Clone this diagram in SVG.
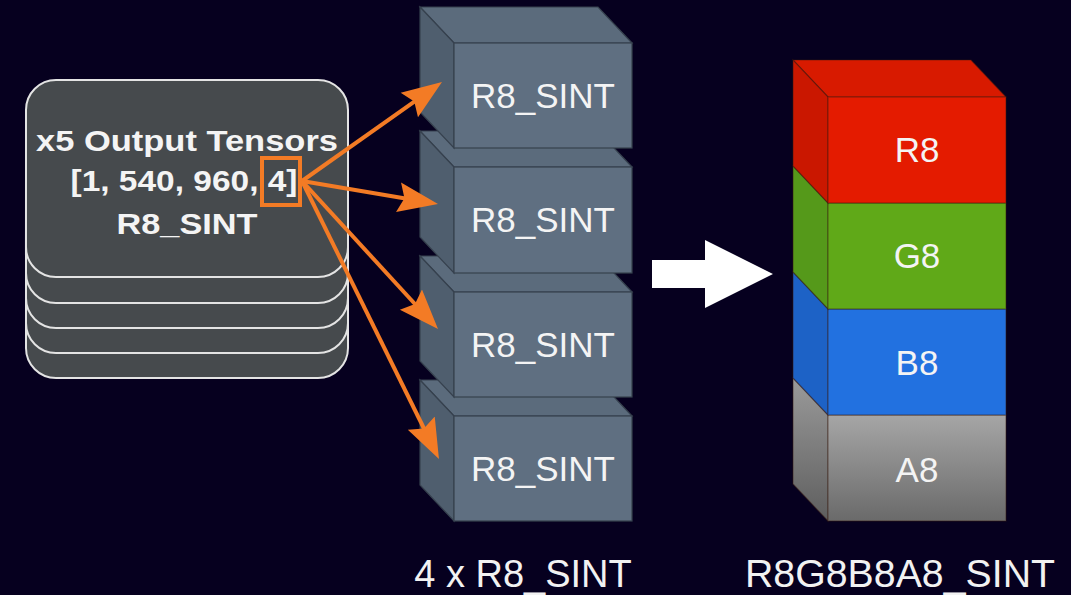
<svg xmlns="http://www.w3.org/2000/svg" width="1071" height="595" viewBox="0 0 1071 595">
<style>
.bg{fill:#06001f}
.tens{fill:#464a4d;stroke:#e4e4e4;stroke-width:2}
.tt{font-family:"Liberation Sans",Arial,sans-serif;font-weight:bold;font-size:30px;fill:#f4f4f4;text-anchor:middle}
.cf{fill:#5f6f81;stroke:#36414e;stroke-width:1.2}
.ct{fill:#5b6b7c;stroke:#36414e;stroke-width:1.2}
.cl{fill:#4f5e6e;stroke:#36414e;stroke-width:1.2}
.lbl{font-family:"Liberation Sans",Arial,sans-serif;font-size:35px;fill:#f4f4f4;text-anchor:middle}
.cap{font-family:"Liberation Sans",Arial,sans-serif;font-size:38px;fill:#f2f2f2;text-anchor:middle}
.edge{stroke:#3a1a10;stroke-opacity:0.45;stroke-width:1.2}
.conn{stroke:#f37b25;stroke-width:4;fill:none;marker-end:url(#ah)}
</style>
<defs>
<marker id="ah" markerUnits="userSpaceOnUse" markerWidth="42" markerHeight="32" refX="10" refY="15" orient="auto" viewBox="0 0 42 30">
<path d="M0,0 L40,15 L0,30 L6,15 Z" fill="#f37b25"/>
</marker>
<linearGradient id="ga" x1="0" y1="0" x2="0" y2="1">
<stop offset="0" stop-color="#a6a6a6"/>
<stop offset="1" stop-color="#6a6a6a"/>
</linearGradient>
<linearGradient id="gas" x1="0" y1="0" x2="0" y2="1">
<stop offset="0" stop-color="#9a9a9a"/>
<stop offset="1" stop-color="#5e5e5e"/>
</linearGradient>
</defs>
<rect class="bg" x="0" y="0" width="1071" height="595"/>

<g id="tensors">
<rect class="tens" x="26" y="181" width="322" height="197" rx="30"/>
<rect class="tens" x="26" y="156" width="322" height="197" rx="30"/>
<rect class="tens" x="26" y="131" width="322" height="197" rx="30"/>
<rect class="tens" x="26" y="106" width="322" height="197" rx="30"/>
<rect class="tens" x="26" y="80" width="322" height="197" rx="30"/>
<text class="tt" x="187" y="151" textLength="302" lengthAdjust="spacingAndGlyphs">x5 Output Tensors</text>
<text class="tt" x="184" y="191" textLength="227" lengthAdjust="spacingAndGlyphs">[1, 540, 960, 4]</text>
<text class="tt" x="187" y="234" textLength="141" lengthAdjust="spacingAndGlyphs">R8_SINT</text>
<rect x="262" y="158" width="38" height="47" fill="none" stroke="#f37b25" stroke-width="4"/>
</g>

<g id="cube4">
<polygon class="ct" points="420,380 598,380 632,416 454,416"/>
<polygon class="cl" points="420,380 454,416 454,521 420,485"/>
<rect class="cf" x="454" y="416" width="178" height="105"/>
<text class="lbl" x="543" y="481">R8_SINT</text>
</g>
<g id="cube3">
<polygon class="ct" points="420,256 598,256 632,292 454,292"/>
<polygon class="cl" points="420,256 454,292 454,397 420,361"/>
<rect class="cf" x="454" y="292" width="178" height="105"/>
<text class="lbl" x="543" y="357">R8_SINT</text>
</g>
<g id="cube2">
<polygon class="ct" points="420,131 598,131 632,167 454,167"/>
<polygon class="cl" points="420,131 454,167 454,273 420,237"/>
<rect class="cf" x="454" y="167" width="178" height="106"/>
<text class="lbl" x="543" y="232">R8_SINT</text>
</g>
<g id="cube1">
<polygon class="ct" points="420,7 598,7 632,43 454,43"/>
<polygon class="cl" points="420,7 454,43 454,148 420,112"/>
<rect class="cf" x="454" y="43" width="178" height="105"/>
<text class="lbl" x="543" y="108">R8_SINT</text>
</g>

<g id="bigarrow">
<polygon points="652,260 705,260 705,240 773,274 705,308 705,288 652,288" fill="#ffffff"/>
</g>

<g id="a8">
<polygon class="edge" points="793,378 828,415 828,521 793,484" fill="url(#gas)"/>
<rect class="edge" x="828" y="415" width="178" height="106" fill="url(#ga)"/>
<text class="lbl" x="917" y="482" style="font-size:35px">A8</text>
</g>
<g id="b8">
<polygon class="edge" points="793,272 828,309 828,415 793,378" fill="#1d62c6"/>
<rect class="edge" x="828" y="309" width="178" height="106" fill="#2271e0"/>
<text class="lbl" x="917" y="375" style="font-size:35px">B8</text>
</g>
<g id="g8">
<polygon class="edge" points="793,166 828,203 828,309 793,272" fill="#55991a"/>
<rect class="edge" x="828" y="203" width="178" height="106" fill="#60a918"/>
<text class="lbl" x="917" y="268" style="font-size:35px">G8</text>
</g>
<g id="r8">
<polygon class="edge" points="793,60 971,60 1006,97 828,97" fill="#d81a00"/>
<polygon class="edge" points="793,60 828,97 828,203 793,166" fill="#ca1700"/>
<rect class="edge" x="828" y="97" width="178" height="106" fill="#e41b00"/>
<text class="lbl" x="917" y="162" style="font-size:35px">R8</text>
</g>

<g id="connectors">
<line class="conn" x1="302" y1="181" x2="417.5" y2="99.3"/>
<line class="conn" x1="302" y1="181" x2="408.4" y2="199"/>
<line class="conn" x1="302" y1="181" x2="417.7" y2="307"/>
<line class="conn" x1="302" y1="181" x2="425.7" y2="432"/>
</g>

<g id="captions">
<text class="cap" x="523" y="587">4 x R8_SINT</text>
<text class="cap" x="900" y="587" textLength="310" lengthAdjust="spacingAndGlyphs">R8G8B8A8_SINT</text>
</g>
</svg>
